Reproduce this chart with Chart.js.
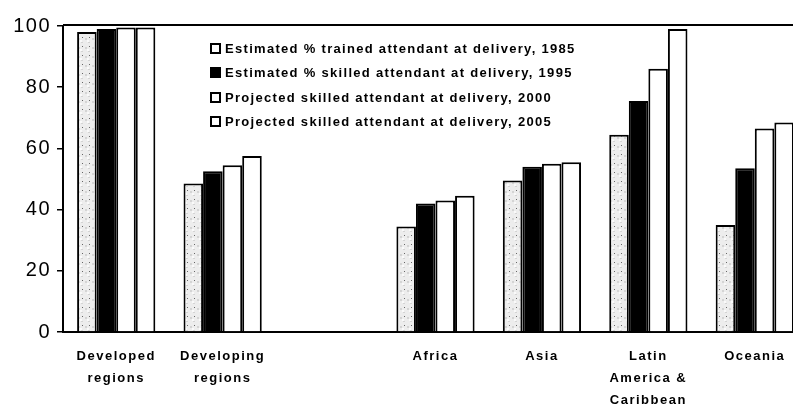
<!DOCTYPE html>
<html>
<head>
<meta charset="utf-8">
<script src="https://cdn.jsdelivr.net/npm/chart.js@4/dist/chart.umd.min.js"></script>
<style>
  html, body { margin: 0; padding: 0; background: #fff; }
  #wrap { position: relative; width: 793px; height: 405px; overflow: hidden; }
  #legend {
    position: absolute; left: 210px; top: 36px;
    font: bold 13px "Liberation Sans", Arial, sans-serif;
    letter-spacing: 1.3px; color: #000;
  }
  #legend .row { height: 24.5px; display: flex; align-items: center; white-space: nowrap; }
  #legend .box { width: 7px; height: 7px; border: 2px solid #000; margin-right: 4px; box-sizing: content-box; }
</style>
</head>
<body>
<div id="wrap">
  <canvas id="chart" width="808" height="405"></canvas>
  <div id="legend"></div>
</div>
<script>
// ── data ──────────────────────────────────────────────
const categories = [
  ['Developed', 'regions'],
  ['Developing', 'regions'],
  '',
  'Africa',
  'Asia',
  ['Latin', 'America &', 'Caribbean'],
  'Oceania'
];

const seriesLabels = [
  'Estimated % trained attendant at delivery, 1985',
  'Estimated % skilled attendant at delivery, 1995',
  'Projected skilled attendant at delivery, 2000',
  'Projected skilled attendant at delivery, 2005'
];

const trained1985 = [98, 48.5, null, 34.5, 49.5, 64.5, 35];
const skilled1995 = [99, 52.5, null, 42, 54, 75.5, 53.5];
const proj2000    = [99.5, 54.5, null, 43, 55, 86, 66.5];
const proj2005    = [99.5, 57.5, null, 44.5, 55.5, 99, 68.5];

const yTicks = [0, 20, 40, 60, 80, 100];

// ── styles ────────────────────────────────────────────
const BLACK = '#000';
const FONT  = '"Liberation Sans", Arial, sans-serif';

// light stippled fill for the 1985 bars
function stipple() {
  const c = document.createElement('canvas');
  c.width = 7; c.height = 9;
  const g = c.getContext('2d');
  g.fillStyle = '#ededed'; g.fillRect(0, 0, 7, 9);
  g.fillStyle = '#d4d4d4'; g.fillRect(1, 2, 2, 2); g.fillRect(4, 6, 2, 1);
  g.fillStyle = '#666';    g.fillRect(5, 1, 1, 1);
  g.fillStyle = '#fafafa'; g.fillRect(3, 4, 2, 2);
  return g.createPattern(c, 'repeat');
}

const ctx = document.getElementById('chart').getContext('2d');
const fills = [stipple(), '#000', '#fff', '#fff'];
const seriesData = [trained1985, skilled1995, proj2000, proj2005];

const datasets = seriesData.map((d, i) => ({
  label:           seriesLabels[i],
  data:            d,
  backgroundColor: fills[i],
  borderColor:     BLACK,
  borderWidth:     2,
  categoryPercentage: 0.735,
  barPercentage:   1.0
}));

// legend (html, inside plot area)
const legendEl = document.getElementById('legend');
seriesLabels.forEach((lab, i) => {
  const row = document.createElement('div');
  row.className = 'row';
  const box = document.createElement('span');
  box.className = 'box';
  box.style.background = i === 1 ? '#000' : '#fff';
  row.appendChild(box);
  row.appendChild(document.createTextNode(lab));
  legendEl.appendChild(row);
});

// letter spacing on canvas text + frame line on top
const framePlugin = {
  id: 'frame',
  beforeDraw(chart) { chart.ctx.letterSpacing = '1.5px'; },
  afterDraw(chart) {
    const { ctx, chartArea: a } = chart;
    ctx.save();
    ctx.strokeStyle = BLACK;
    ctx.lineWidth = 2;
    ctx.beginPath();
    ctx.moveTo(a.left, a.top - 1);
    ctx.lineTo(a.right, a.top - 1);
    ctx.stroke();
    ctx.restore();
    ctx.letterSpacing = '0px';
  }
};

new Chart(ctx, {
  type: 'bar',
  data: { labels: categories, datasets },
  plugins: [framePlugin],
  options: {
    responsive: false,
    animation:  false,
    layout: { padding: { top: 26, right: 0, left: 0, bottom: 0 } },
    plugins: {
      legend:  { display: false },
      tooltip: { enabled: false }
    },
    scales: {
      x: {
        grid:   { display: false },
        border: { display: true, color: BLACK, width: 2 },
        ticks: {
          color: BLACK,
          padding: 5,
          maxRotation: 0,
          autoSkip: false,
          font: { family: FONT, size: 13, weight: 'bold', lineHeight: 1.7 }
        },
        afterFit(scale) { scale.height = 73; }
      },
      y: {
        min: 0,
        max: 100,
        afterBuildTicks(scale) { scale.ticks = yTicks.map(v => ({ value: v })); },
        grid: {
          drawOnChartArea: false,
          drawTicks: true,
          tickLength: 6,
          color: BLACK,
          lineWidth: 1.5
        },
        border: { display: true, color: BLACK, width: 2 },
        ticks: {
          color: BLACK,
          padding: 6,
          font: { family: FONT, size: 20 }
        },
        afterFit(scale) { scale.width = 63; }
      }
    }
  }
});
</script>
</body>
</html>
